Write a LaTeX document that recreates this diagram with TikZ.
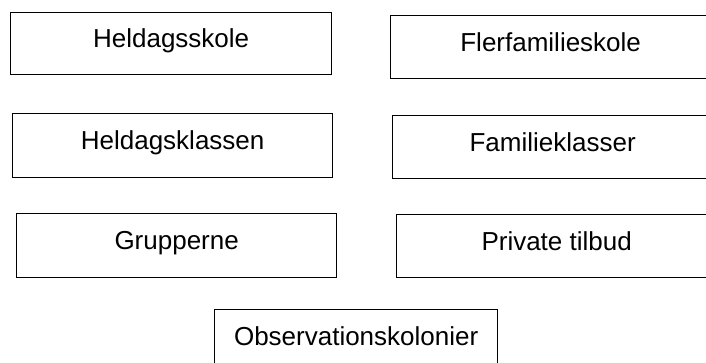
\documentclass[tikz,border=0pt]{standalone}
\usepackage{fontspec}
\setmainfont{Liberation Sans}
\begin{document}
\begin{tikzpicture}[x=1pt,y=-1pt,
  box/.style={draw=black, line width=1.3pt, fill=white, rectangle, inner sep=0pt,
    anchor=north west, font=\fontsize{26}{31}\selectfont,
    text height=18.6pt, text depth=10pt}]
\useasboundingbox (0,0) rectangle (706,363);
\node[box, minimum width=321pt, minimum height=62pt] (b1) at (10,12) {Heldagsskole};
\node[box, minimum width=320pt, minimum height=63pt] (b2) at (390,15) {Flerfamilieskole};
\node[box, minimum width=320pt, minimum height=64pt] (b3) at (12,113) {Heldagsklassen};
\node[box, minimum width=320pt, minimum height=63pt] (b4) at (392,115) {Familieklasser};
\node[box, minimum width=320pt, minimum height=64pt] (b5) at (16,213) {Grupperne};
\node[box, minimum width=320pt, minimum height=63pt] (b6) at (396,214) {Private tilbud};
\node[box, minimum width=283pt, minimum height=64pt] (b7) at (214,309) {Observationskolonier};
\end{tikzpicture}
\end{document}
